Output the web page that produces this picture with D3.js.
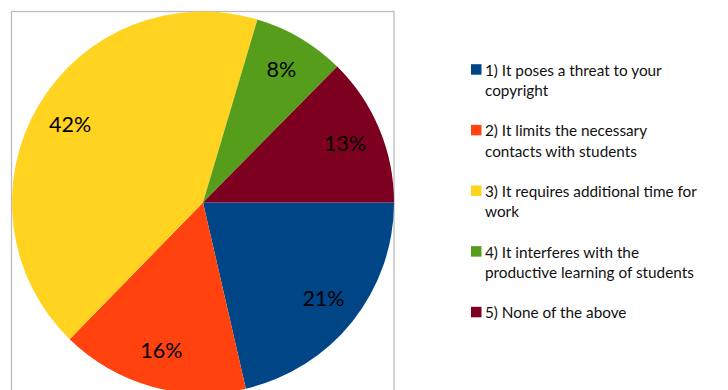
<!DOCTYPE html>
<html>
<head>
<meta charset="utf-8">
<script src="https://cdn.jsdelivr.net/npm/d3@7"></script>
<style>
  html, body { margin: 0; padding: 0; background: #fff; }
  svg { display: block; }
</style>
</head>
<body>
<svg id="chart" width="728" height="390"></svg>
<script>
// ---- data ----
const categories = [
  ["1) It poses a threat to your", "copyright"],
  ["2) It limits the necessary", "contacts with students"],
  ["3) It requires additional time for", "work"],
  ["4) It interferes with the", "productive learning of students"],
  ["5) None of the above"]
];
const values = [21.4, 15.9, 42.3, 7.8, 12.6];
const colors = ["#004586", "#ff420e", "#ffd320", "#579d1c", "#7e0021"];

// ---- layout ----
const svg = d3.select("#chart");
const cx = 203, cy = 202.5, R = 191, labelR = 154;

// frame
svg.append("rect")
  .attr("x", 11.5).attr("y", 11.5)
  .attr("width", 382.5).attr("height", 400)
  .attr("fill", "none").attr("stroke", "#bbbbbb").attr("stroke-width", 1.3);

const total = d3.sum(values);
const pie = d3.pie().sort(null)
  .startAngle(Math.PI / 2).endAngle(Math.PI / 2 + 2 * Math.PI)
  .value(d => d);
const arcs = pie(values);
const arc = d3.arc().innerRadius(0).outerRadius(R);
const labelArc = d3.arc().innerRadius(labelR).outerRadius(labelR);

const g = svg.append("g").attr("transform", `translate(${cx},${cy})`);
g.selectAll("path.slice").data(arcs).enter().append("path")
  .attr("class", "slice")
  .attr("d", arc)
  .attr("fill", (d, i) => colors[i]);

const fmt = d3.format(".0%");
g.selectAll("text.lbl").data(arcs).enter().append("text")
  .attr("class", "lbl")
  .attr("transform", d => `translate(${labelArc.centroid(d)})`)
  .attr("text-anchor", "middle")
  .attr("dy", "0.35em")
  .attr("font-family", "Lato, 'Open Sans', sans-serif")
  .attr("font-size", 21.5)
  .attr("fill", "#000")
  .text(d => fmt(d.data / total));

// legend
const legY = d3.scaleLinear().domain([0, 4]).range([75.7, 318.3]);
const leg = svg.append("g");
categories.forEach((lines, i) => {
  const y = legY(i);
  leg.append("rect")
    .attr("x", 471).attr("y", y - 11.5)
    .attr("width", 10.5).attr("height", 10.5)
    .attr("fill", colors[i]);
  const t = leg.append("text")
    .attr("font-family", "Lato, 'Open Sans', sans-serif")
    .attr("font-size", 15.3)
    .attr("fill", "#111");
  lines.forEach((ln, j) => {
    t.append("tspan").attr("x", 485).attr("y", y + j * 20.3).text(ln);
  });
});
</script>
</body>
</html>
